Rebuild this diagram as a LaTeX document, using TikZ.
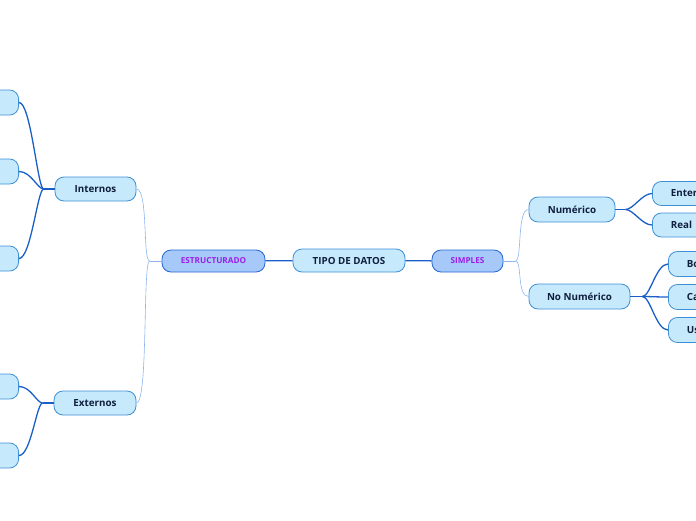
\documentclass[tikz,border=0pt]{standalone}
\usepackage{fontspec}
\setmainfont{Open Sans}
\usetikzlibrary{positioning}
\definecolor{boxfill}{HTML}{C6E9FC}
\definecolor{boxline}{HTML}{3E8FD6}
\definecolor{mainfill}{HTML}{A7C9FA}
\definecolor{mainline}{HTML}{2366D1}
\definecolor{txt}{HTML}{0F1F3D}
\definecolor{purp}{HTML}{9A1FE6}
\definecolor{thick}{HTML}{1A5FC8}
\definecolor{thin}{HTML}{8DB5EC}
\tikzset{
  topic/.style={draw=boxline, fill=boxfill, rounded corners=9pt, line width=0.8pt, minimum height=24pt, inner sep=0pt, text=txt, font=\fontsize{9.8}{11}\selectfont\bfseries},
  maintopic/.style={draw=mainline, fill=mainfill, rounded corners=9pt, line width=0.8pt, minimum height=22pt, inner sep=0pt, text=purp, font=\fontsize{8.2}{9}\selectfont\bfseries},
  leaf/.style={topic, anchor=west, minimum height=25pt, inner ysep=0pt, inner xsep=18.5pt},
  thickline/.style={draw=thick, line width=1.3pt},
  thinline/.style={draw=thin, line width=0.6pt},
}
\begin{document}
\begin{tikzpicture}[x=1pt, y=-1pt]
    \useasboundingbox (0,0) rectangle (696,520);
    \clip (0,0) rectangle (696,520);

    % center and main topics
    \node[topic, minimum width=112pt, minimum height=23pt] (tipo) at (349,260.5) {TIPO DE DATOS};
    \node[maintopic, minimum width=71pt] (simples) at (467.5,261) {SIMPLES};
    \node[maintopic, minimum width=103pt] (estruct) at (213.5,261) {ESTRUCTURADO};

    % right side
    \node[topic, minimum width=86pt, minimum height=25pt] (numerico) at (572,209.5) {Numérico};
    \node[topic, minimum width=101pt, minimum height=25pt] (nonum) at (579.5,296.5) {No Numérico};
    \node[leaf, minimum height=24pt] (entero) at (652,193.5) {Entero};
    \node[leaf, minimum height=24pt] (real) at (652,225) {Real};
    \node[leaf] (bo) at (668,264) {Booleano};
    \node[leaf] (ca) at (668,297) {Caracter};
    \node[leaf] (us) at (668,330) {Usuario};

    % left side
    \node[topic, minimum width=81pt] (internos) at (95.5,189) {Internos};
    \node[topic, minimum width=82pt] (externos) at (95,403) {Externos};
    \foreach \n/\y in {i1/102.5, i2/171.5, i3/258.5, e1/386.5, e2/455.5}
        \node[topic, minimum width=70pt, minimum height=25pt, anchor=east] (\n) at (19,\y) {};

    % connectors
    \draw[thickline] (tipo) -- (simples);
    \draw[thickline] (tipo) -- (estruct);

    \draw[thinline] (simples.east) -- ++(12,0) coordinate (sj);
    \foreach \c in {numerico, nonum}
        \draw[thinline] (sj) .. controls +(7,0) and +(-12,0) .. (\c.west);
    \draw[thinline] (estruct.west) -- ++(-12,0) coordinate (ej);
    \foreach \c in {internos, externos}
        \draw[thinline] (ej) .. controls +(-7,0) and +(12,0) .. (\c.east);

    \draw[thickline] (numerico.east) -- ++(10,0) coordinate (nj);
    \foreach \c in {entero, real}
        \draw[thickline] (nj) .. controls +(8,0) and +(-10,0) .. (\c.west);
    \draw[thickline] (nonum.east) -- ++(12,0) coordinate (oj);
    \foreach \c in {bo, ca, us}
        \draw[thickline] (oj) .. controls +(8,0) and +(-12,0) .. (\c.west);

    \draw[thickline] (internos.west) -- ++(-11,0) coordinate (ij);
    \foreach \c in {i1, i2, i3}
        \draw[thickline] (ij) .. controls +(-6,0) and +(12,0) .. (\c.east);
    \draw[thickline] (externos.west) -- ++(-11,0) coordinate (xj);
    \foreach \c in {e1, e2}
        \draw[thickline] (xj) .. controls +(-6,0) and +(12,0) .. (\c.east);
\end{tikzpicture}
\end{document}
